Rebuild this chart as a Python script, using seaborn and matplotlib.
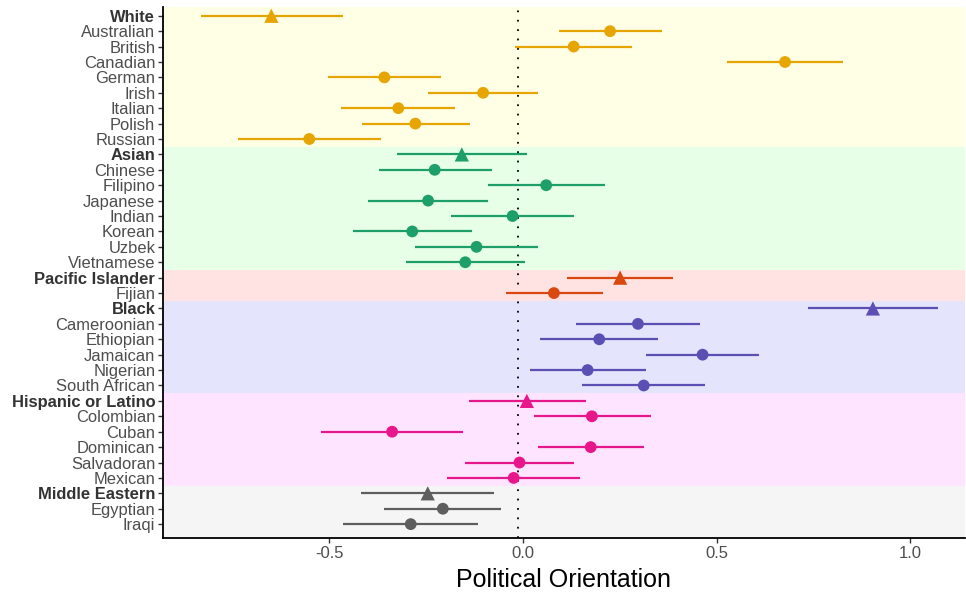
import matplotlib
matplotlib.use("Agg")
import matplotlib.pyplot as plt
import seaborn as sns
import pandas as pd
import numpy as np

labels = ["White", "Australian", "British", "Canadian", "German", "Irish", "Italian", "Polish", "Russian",
          "Asian", "Chinese", "Filipino", "Japanese", "Indian", "Korean", "Uzbek", "Vietnamese",
          "Pacific Islander", "Fijian",
          "Black", "Cameroonian", "Ethiopian", "Jamaican", "Nigerian", "South African",
          "Hispanic or Latino", "Colombian", "Cuban", "Dominican", "Salvadoran", "Mexican",
          "Middle Eastern", "Egyptian", "Iraqi"]
groups = (["White"] * 9 + ["Asian"] * 8 + ["Pacific Islander"] * 2 + ["Black"] * 6
          + ["Hispanic or Latino"] * 6 + ["Middle Eastern"] * 3)
is_group = [l in ("White", "Asian", "Pacific Islander", "Black", "Hispanic or Latino", "Middle Eastern")
            for l in labels]

estimate = [-0.650, 0.225, 0.131, 0.677, -0.358, -0.103, -0.322, -0.278, -0.552,
            -0.158, -0.228, 0.060, -0.245, -0.027, -0.286, -0.120, -0.149,
            0.251, 0.080,
            0.904, 0.297, 0.197, 0.464, 0.167, 0.312,
            0.010, 0.178, -0.338, 0.175, -0.009, -0.024,
            -0.246, -0.207, -0.290]
lower = [-0.833, 0.092, -0.020, 0.526, -0.504, -0.246, -0.470, -0.416, -0.736,
         -0.325, -0.373, -0.091, -0.401, -0.187, -0.439, -0.278, -0.301,
         0.115, -0.044,
         0.737, 0.137, 0.045, 0.318, 0.019, 0.153,
         -0.140, 0.028, -0.521, 0.038, -0.149, -0.196,
         -0.418, -0.358, -0.465]
upper = [-0.466, 0.358, 0.282, 0.827, -0.213, 0.040, -0.175, -0.137, -0.368,
         0.011, -0.081, 0.212, -0.090, 0.133, -0.132, 0.039, 0.005,
         0.387, 0.207,
         1.071, 0.458, 0.349, 0.610, 0.318, 0.470,
         0.163, 0.330, -0.156, 0.312, 0.131, 0.147,
         -0.076, -0.056, -0.117]

group_order = ["White", "Asian", "Pacific Islander", "Black", "Hispanic or Latino", "Middle Eastern"]
group_colors = ["#E6A502", "#1E9E68", "#D9480F", "#5A50B4", "#E7168A", "#5E5E5E"]
band_colors = ["#FFFFE6", "#E6FFE6", "#FFE3E3", "#E4E4FC", "#FFE4FF", "#F5F5F5"]
ref_line = -0.014

df = pd.DataFrame({"label": labels, "group": groups, "est": estimate, "lo": lower, "hi": upper,
                   "kind": ["Group" if g else "Sub" for g in is_group]})
df["row"] = np.arange(len(df))

sns.set_theme(style="white")
plt.rcParams["font.family"] = ["Liberation Sans", "DejaVu Sans"]

fig = plt.figure(figsize=(9.66, 5.95), dpi=100)
ax = fig.add_axes([0.1687, 0.0958, 0.8303, 0.8922])

# background bands
for g, bc in zip(group_order, band_colors):
    rows = df.loc[df.group == g, "row"]
    top = rows.min() - 0.5 if rows.min() > 0 else -5
    bot = rows.max() + 0.5 if rows.max() < len(df) - 1 else len(df) + 5
    ax.axhspan(top, bot, color=bc, lw=0, zorder=0)

ax.axvline(ref_line, color="black", lw=1.3, ls=(0, (1, 4.2)), zorder=1)

palette = dict(zip(group_order, group_colors))
for g in group_order:
    sub = df[df.group == g]
    ax.hlines(sub["row"], sub["lo"], sub["hi"], color=palette[g], lw=1.6, zorder=2)

sns.scatterplot(data=df, x="est", y="row", hue="group", style="kind", size="kind",
                sizes={"Group": 105, "Sub": 72},
                markers={"Group": "^", "Sub": "o"},
                palette=palette, hue_order=group_order, linewidth=0,
                legend=False, ax=ax, zorder=3)

ax.set_ylim(33.9, -0.56)
ax.set_xlim(-0.930, 1.142)
ax.set_yticks(df["row"])
ax.set_yticklabels(labels)
for t, bold in zip(ax.get_yticklabels(), is_group):
    t.set_fontsize(11.9)
    if bold:
        t.set_fontweight("bold")
        t.set_color("#333333")
    else:
        t.set_color("#4D4D4D")
ax.set_xticks([-0.5, 0.0, 0.5, 1.0])
ax.set_xticklabels(["-0.5", "0.0", "0.5", "1.0"], fontsize=12, color="#4D4D4D")
ax.tick_params(axis="both", which="both", length=3.5, width=1, color="#333333",
               left=True, bottom=True, pad=2)
ax.set_ylabel("")
ax.set_xlabel("Political Orientation", fontsize=18, color="black", labelpad=5)

for s in ["top", "right"]:
    ax.spines[s].set_visible(False)
for s in ["left", "bottom"]:
    ax.spines[s].set_color("black")
    ax.spines[s].set_linewidth(1.3)

fig.savefig("out.png", dpi=100)
